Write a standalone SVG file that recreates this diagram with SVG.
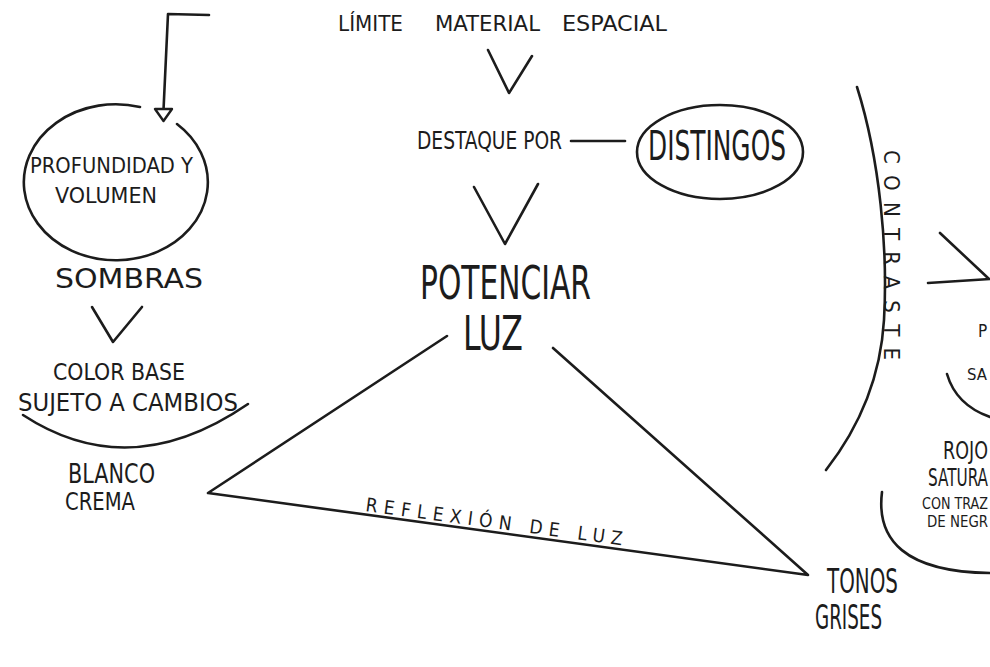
<svg xmlns="http://www.w3.org/2000/svg" width="990" height="667" viewBox="0 0 990 667">
<style>
.ln{fill:none;stroke:#1c1c1c;stroke-width:2.6;stroke-linecap:round;stroke-linejoin:round}
.t{font-family:"Liberation Sans Narrow","DejaVu Sans Condensed","Liberation Sans",sans-serif;fill:#1c1c1c}
</style>
<rect width="990" height="667" fill="#fff"/>

<g id="connectors">
<path class="ln" d="M209,15 L168,14 L163.5,110"/>
<path d="M155,109 L172,109 L163.5,121 Z" fill="#fff" stroke="#1c1c1c" stroke-width="2.4" stroke-linejoin="round"/>
<path class="ln" d="M92,307 L113,342 L142,307"/>
<path class="ln" d="M488,50 L509,93 L532,56"/>
<path class="ln" d="M474,187 L505,244 L538,184"/>
<path class="ln" d="M571,141 L625,141"/>
<path class="ln" d="M447,336 L208,493 L808,575 L553,348"/>
<path class="ln" d="M940,233 L988,278 M928,283 L990,279"/>
</g>

<g id="node-profundidad">
<path class="ln" d="M177,124 A92,78 0 1 1 140,107"/>
<text class="t" x="30" y="173" font-size="21" textLength="163" lengthAdjust="spacingAndGlyphs">PROFUNDIDAD Y</text>
<text class="t" x="55" y="203" font-size="21" textLength="102" lengthAdjust="spacingAndGlyphs">VOLUMEN</text>
</g>

<g id="node-sombras">
<text class="t" x="55" y="288" font-size="27" textLength="148" lengthAdjust="spacingAndGlyphs">SOMBRAS</text>
</g>

<g id="node-colorbase">
<text class="t" x="53" y="380" font-size="23" textLength="132" lengthAdjust="spacingAndGlyphs">COLOR BASE</text>
<text class="t" x="18" y="411" font-size="24" textLength="220" lengthAdjust="spacingAndGlyphs">SUJETO A CAMBIOS</text>
<path class="ln" d="M23,415 Q130,485 248,404"/>
</g>

<g id="node-blanco">
<text class="t" x="68" y="483" font-size="26" textLength="87" lengthAdjust="spacingAndGlyphs">BLANCO</text>
<text class="t" x="65" y="510" font-size="24" textLength="70" lengthAdjust="spacingAndGlyphs">CREMA</text>
</g>

<g id="node-limite">
<text class="t" y="31" font-size="22"><tspan x="338" textLength="65" lengthAdjust="spacingAndGlyphs">LÍMITE</tspan><tspan x="435" textLength="105" lengthAdjust="spacingAndGlyphs">MATERIAL</tspan><tspan x="562" textLength="105" lengthAdjust="spacingAndGlyphs">ESPACIAL</tspan></text>
</g>

<g id="node-destaque">
<text class="t" x="417" y="149" font-size="24" textLength="145" lengthAdjust="spacingAndGlyphs">DESTAQUE POR</text>
</g>

<g id="node-distingos">
<ellipse class="ln" cx="720" cy="152" rx="83" ry="47"/>
<text class="t" x="648" y="160" font-size="40" textLength="138" lengthAdjust="spacingAndGlyphs">DISTINGOS</text>
</g>

<g id="node-potenciar">
<text class="t" x="420" y="299" font-size="46" textLength="171" lengthAdjust="spacingAndGlyphs">POTENCIAR</text>
<text class="t" x="463" y="350" font-size="48" textLength="60" lengthAdjust="spacingAndGlyphs">LUZ</text>
</g>

<g id="label-reflexion">
<text class="t" transform="translate(365,511) rotate(7.6)" font-size="19" textLength="259" lengthAdjust="spacing">REFLEXIÓN DE LUZ</text>
</g>

<g id="node-tonos">
<text class="t" x="827" y="593" font-size="33" textLength="71" lengthAdjust="spacingAndGlyphs">TONOS</text>
<text class="t" x="815" y="629" font-size="34" textLength="67" lengthAdjust="spacingAndGlyphs">GRISES</text>
</g>

<g id="node-contraste">
<path class="ln" d="M857,87 C880,160 888,250 884,320 C881,370 865,420 826,470"/>
<text class="t" transform="translate(884,150) rotate(90)" font-size="22" textLength="210" lengthAdjust="spacing">CONTRASTE</text>
</g>

<g id="node-right">
<text class="t" x="978" y="337" font-size="17">P</text>
<text class="t" x="967" y="380" font-size="15" textLength="20" lengthAdjust="spacingAndGlyphs">SA</text>
<path class="ln" d="M947,374 Q956,405 990,417"/>
<text class="t" x="943" y="459" font-size="25" textLength="45" lengthAdjust="spacingAndGlyphs">ROJO</text>
<text class="t" x="928" y="486" font-size="25" textLength="60" lengthAdjust="spacingAndGlyphs">SATURA</text>
<text class="t" x="922" y="509" font-size="16" textLength="66" lengthAdjust="spacingAndGlyphs">CON TRAZ</text>
<text class="t" x="927" y="527" font-size="16" textLength="61" lengthAdjust="spacingAndGlyphs">DE NEGR</text>
<path class="ln" d="M882,492 C876,540 905,572 990,573"/>
</g>
</svg>
